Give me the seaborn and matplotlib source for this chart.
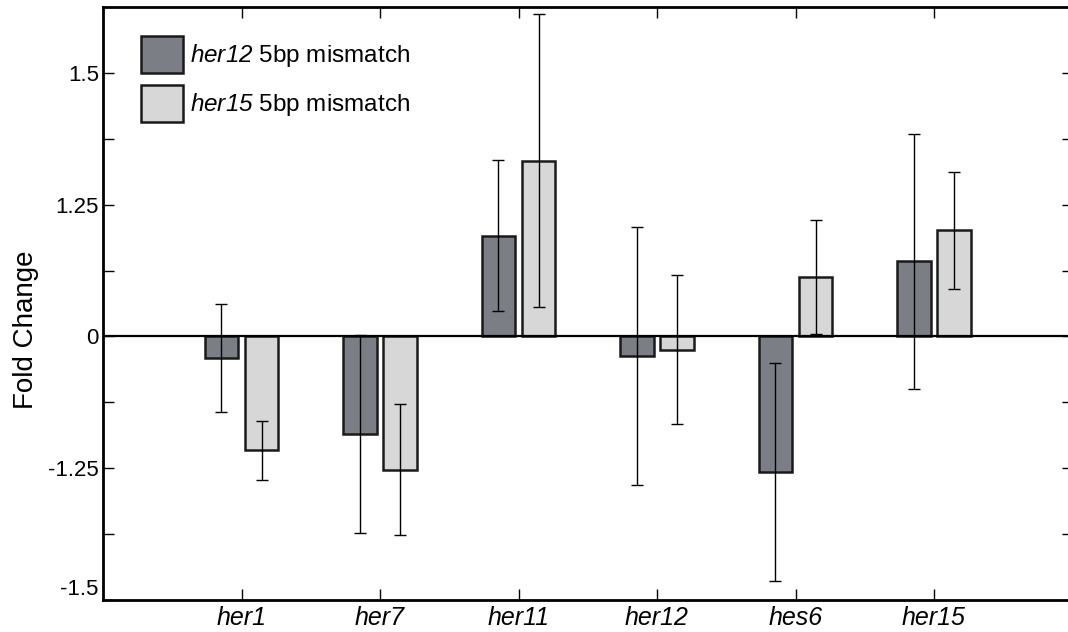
import pandas as pd
import seaborn as sns
import matplotlib.pyplot as plt

# Genes and the two morpholino groups
genes = ["her1", "her7", "her11", "her12", "hes6", "her15"]
groups = ["her12 5bp mismatch", "her15 5bp mismatch"]

# Fold change (in axis units), with error half-widths
her12_mm = [-0.32, -1.48, 1.53, -0.30, -2.06, 1.14]
her12_err = [0.82, 1.50, 1.15, 1.96, 1.65, 1.94]
her15_mm = [-1.73, -2.02, 2.67, -0.20, 0.90, 1.61]
her15_err = [0.45, 1.00, 2.23, 1.13, 0.86, 0.89]

# Y axis ticks and their (odd) labels as printed on the figure
y_ticks = [-4, -3, -2, -1, 0, 1, 2, 3, 4]
y_labels = ["-1.5", "", "-1.25", "", "0", "", "1.25", "", "1.5"]

df = pd.DataFrame({
    "gene": genes * 2,
    "group": [groups[0]] * len(genes) + [groups[1]] * len(genes),
    "value": her12_mm + her15_mm,
})
errs = [her12_err, her15_err]

sns.set_style("ticks")
plt.rcParams["font.family"] = ["Liberation Sans", "DejaVu Sans"]
for k in ["text.color", "axes.labelcolor", "xtick.color", "ytick.color"]:
    plt.rcParams[k] = "black"
# mathrm used for the italic gene names in the legend
plt.rcParams["mathtext.fontset"] = "custom"
plt.rcParams["mathtext.rm"] = "Liberation Sans:italic"
plt.rcParams["mathtext.it"] = "Liberation Sans:italic"

fig = plt.figure(figsize=(10.68, 6.32), dpi=100)
ax = fig.add_axes([103 / 1068, 32 / 632, 969.5 / 1068, 593 / 632])

sns.barplot(
    data=df, x="gene", y="value", hue="group",
    palette=["#7a7d85", "#d7d7d7"],
    edgecolor="#1a1a1a", linewidth=1.8,
    width=0.58, gap=0.17, errorbar=None, ax=ax,
)

# error bars centred on the bar ends
for cont, err in zip(ax.containers, errs):
    xs = [p.get_x() + p.get_width() / 2 for p in cont]
    ys = [p.get_y() + p.get_height() for p in cont]
    ax.errorbar(xs, ys, yerr=err, fmt="none", ecolor="black",
                elinewidth=1.0, capsize=4.5, capthick=1.0, zorder=5)

ax.axhline(0, color="black", linewidth=1.6, zorder=4)

ax.set_xlim(-1, 6)
ax.set_ylim(-4, 5)
ax.set_yticks(y_ticks)
ax.set_yticklabels(y_labels, fontsize=16)
ax.get_yticklabels()[0].set_va("bottom")
ax.set_xticks(range(len(genes)))
ax.set_xticklabels(genes, fontsize=18, style="italic")
ax.tick_params(axis="both", direction="in", length=8, width=1.0,
               top=True, right=True, color="black")
ax.tick_params(axis="y", pad=3)
ax.tick_params(axis="x", pad=4)
for s in ax.spines.values():
    s.set_linewidth(2.0)
    s.set_color("black")

ax.set_xlabel("")
ax.set_ylabel("Fold Change", fontsize=20)
ax.yaxis.set_label_coords(-0.066, 0.455)

handles, _ = ax.get_legend_handles_labels()
ax.legend(
    handles,
    [r"$\mathrm{her12}$ 5bp mismatch", r"$\mathrm{her15}$ 5bp mismatch"],
    loc="upper left", bbox_to_anchor=(0.017, 0.988), frameon=False,
    fontsize=17.5, handlelength=1.7, handleheight=1.95,
    handletextpad=0.3, labelspacing=0.5,
)

plt.savefig("out.png", dpi=100)
